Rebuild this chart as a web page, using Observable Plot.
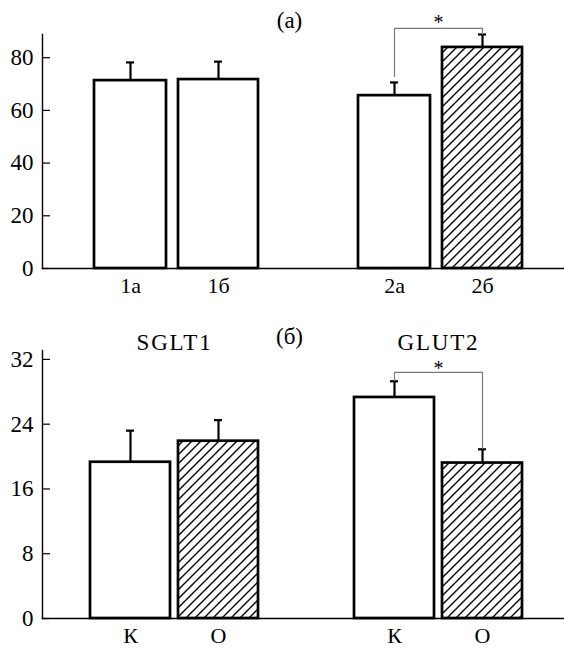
<!DOCTYPE html>
<html>
<head>
<meta charset="utf-8">
<script src="https://cdn.jsdelivr.net/npm/d3@7"></script>
<script src="https://cdn.jsdelivr.net/npm/@observablehq/plot@0.6"></script>
<style>
  body { margin: 0; background: white; }
  svg { display: block; }
</style>
</head>
<body>
<div id="chart"></div>
<script>
// ---------- Panel (а) data ----------
const catsA = ["1а", "1б", "2а", "2б"];
const valuesA = [71.3, 71.7, 65.6, 83.9];
const errTopA = [78.2, 78.5, 70.6, 88.8];
const hatchedA = [false, false, false, true];
const yTicksA = [0, 20, 40, 60, 80];
const bracketA = [ // significance bracket between 2а and 2б
  {x: "2а", y: 72.9}, {x: "2а", y: 91.1}, {x: "2б", y: 91.1}, {x: "2б", y: 89.0}
];

// ---------- Panel (б) data ----------
const groupsB = ["SGLT1", "SGLT1", "GLUT2", "GLUT2"];
const labelsB = ["К", "О", "К", "О"];
const valuesB = [19.3, 21.9, 27.3, 19.2];
const errTopB = [23.2, 24.5, 29.3, 20.9];
const hatchedB = [false, true, false, true];
const yTicksB = [0, 8, 16, 24, 32];
const bracketB = [
  {x: "GLUT2-К", y: 29.4}, {x: "GLUT2-К", y: 30.4}, {x: "GLUT2-О", y: 30.4}, {x: "GLUT2-О", y: 21.0}
];

const GAP = "gap";
const FONT = "'Liberation Serif', 'Times New Roman', serif";

function addHatch(svg, id) {
  const defs = d3.select(svg).insert("defs", ":first-child");
  const p = defs.append("pattern")
    .attr("id", id)
    .attr("patternUnits", "userSpaceOnUse")
    .attr("width", 9).attr("height", 9);
  p.append("path")
    .attr("d", "M-1,1 l2,-2 M0,9 l9,-9 M8,10 l2,-2")
    .attr("stroke", "black")
    .attr("stroke-width", 1.4);
}

function panel(cfg) {
  const rows = cfg.ids.map((id, i) => ({
    id, label: cfg.labels[i], value: cfg.values[i], err: cfg.errs[i], hatched: cfg.hatched[i]
  }));
  const domain = [cfg.ids[0], cfg.ids[1], GAP, cfg.ids[2], cfg.ids[3]];
  const labelOf = new Map(rows.map(d => [d.id, d.label]));
  const barStyle = {x: "id", y: "value", stroke: "black", strokeWidth: 2.7};
  const narrow = cfg.narrow || (() => false);
  const svg = Plot.plot({
    width: 564,
    height: cfg.height,
    marginLeft: 42,
    marginRight: 0,
    marginTop: cfg.marginTop,
    marginBottom: cfg.marginBottom,
    style: {fontFamily: FONT, fontSize: "23px", color: "black", background: "white"},
    x: {type: "band", domain, paddingInner: 0.091, paddingOuter: 0.511, align: 0.533, axis: null},
    y: {domain: cfg.yDomain, axis: null},
    marks: [
      Plot.barY(rows.filter(d => !d.hatched && !narrow(d)), {...barStyle, fill: "white"}),
      Plot.barY(rows.filter(d => !d.hatched && narrow(d)), {...barStyle, fill: "white", insetLeft: 4, insetRight: 4}),
      Plot.barY(rows.filter(d => d.hatched), {...barStyle, fill: `url(#${cfg.patternId})`}),
      Plot.ruleX(rows, {x: "id", y1: "value", y2: "err", stroke: "black", strokeWidth: 2.2}),
      Plot.tickY(rows, {x: "id", y: "err", stroke: "black", strokeWidth: 2.2, insetLeft: 36, insetRight: 36}),
      Plot.line(cfg.bracket, {x: "x", y: "y", stroke: "#7a7a7a", strokeWidth: 1.2}),
      Plot.text([cfg.bracket[1]], {x: "x", y: "y", text: () => "*", dx: 44, dy: cfg.starDy, fontSize: 20, lineAnchor: "middle"}),
      Plot.axisY({ticks: cfg.yTicks, tickSize: 0, tickPadding: 9, fontSize: 23}),
      Plot.axisY({ticks: cfg.yTicks, tickSize: 8, tickFormat: () => "", dx: 8, strokeWidth: 1.2}),
      Plot.axisX({ticks: cfg.ids, tickSize: 0, tickPadding: 9, fontSize: 22, tickFormat: d => labelOf.get(d)}),
      Plot.frame({anchor: "left", strokeWidth: 1.4}),
      Plot.frame({anchor: "bottom", strokeWidth: 1.6}),
      Plot.text([cfg.panelLabel], {x: () => GAP, text: d => d, frameAnchor: "top", dx: -17, dy: -14, fontSize: 23, lineAnchor: "middle"}),
      ...(cfg.titles ? [Plot.text(cfg.titles, {x: "x", text: "text", frameAnchor: "top", dx: 44, dy: -8, fontSize: 23, lineAnchor: "middle"})] : [])
    ]
  });
  addHatch(svg, cfg.patternId);
  // title letter-spacing to mimic the wider capitals of the reference
  d3.select(svg).selectAll("text").filter(function() {
    return /^(SGLT1|GLUT2)$/.test(this.textContent);
  }).attr("letter-spacing", "1.8px");
  return svg;
}

const svgA = panel({
  ids: catsA, labels: catsA, values: valuesA, errs: errTopA, hatched: hatchedA,
  narrow: d => d.label.endsWith("а"),
  yDomain: [0, 88.8], yTicks: yTicksA,
  height: 300, marginTop: 34, marginBottom: 32,
  bracket: bracketA, starDy: -6, panelLabel: "(а)", patternId: "hatchA"
});

const idsB = groupsB.map((g, i) => g + "-" + labelsB[i]);
const svgB = panel({
  ids: idsB, labels: labelsB, values: valuesB, errs: errTopB, hatched: hatchedB,
  yDomain: [0, 33.1], yTicks: yTicksB,
  height: 348, marginTop: 50, marginBottom: 30,
  bracket: bracketB, starDy: -4, panelLabel: "(б)", patternId: "hatchB",
  titles: [{x: idsB[0], text: "SGLT1"}, {x: idsB[2], text: "GLUT2"}]
});

document.getElementById("chart").append(svgA, svgB);
</script>
</body>
</html>
